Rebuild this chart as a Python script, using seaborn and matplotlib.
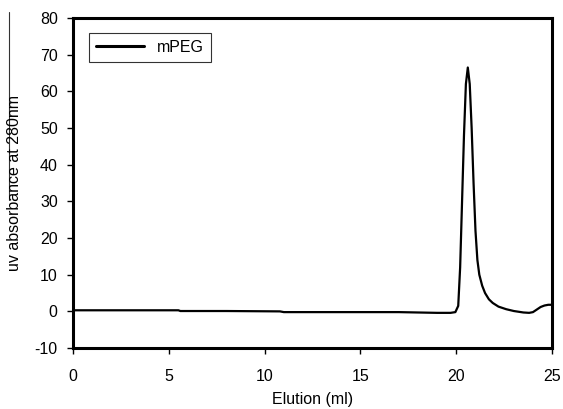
import numpy as np
import pandas as pd
import matplotlib
matplotlib.use("Agg")
import matplotlib.pyplot as plt
from matplotlib.lines import Line2D
import seaborn as sns

# 용출 부피 (ml) / UV 흡광도 값 - 그림에서 읽어낸 값
elution = [0.0, 2.0, 4.0, 5.5, 5.6, 8.0, 10.8, 11.0, 13.0, 15.0, 17.0, 19.0, 19.7,
           19.95, 20.1, 20.2, 20.3, 20.4, 20.5, 20.6, 20.7, 20.8, 20.9, 21.0,
           21.1, 21.2, 21.35, 21.5, 21.7, 21.9, 22.2, 22.6, 23.0, 23.5, 23.8,
           24.0, 24.2, 24.4, 24.6, 24.8, 25.0]
absorb = [0.3, 0.3, 0.3, 0.3, 0.1, 0.1, 0.0, -0.2, -0.2, -0.2, -0.2, -0.4, -0.4,
          -0.2, 1.5, 12.0, 30.0, 48.0, 62.0, 66.5, 62.0, 50.0, 35.0, 22.0,
          14.0, 10.0, 7.0, 5.0, 3.3, 2.3, 1.3, 0.6, 0.1, -0.3, -0.4,
          -0.2, 0.5, 1.2, 1.6, 1.8, 1.8]

df = pd.DataFrame({'Elution (ml)': elution, 'uv': absorb, 'sample': 'mPEG'})

sns.set_style('white')
plt.rcParams['font.family'] = ['Liberation Sans', 'DejaVu Sans']
plt.rcParams['axes.unicode_minus'] = False
plt.rcParams['text.color'] = 'black'
plt.rcParams['axes.labelcolor'] = 'black'
plt.rcParams['xtick.color'] = 'black'
plt.rcParams['ytick.color'] = 'black'

fig = plt.figure(figsize=(5.63, 4.09), dpi=100)
ax = fig.add_axes([0.1297, 0.149, 0.851, 0.807])

sns.lineplot(data=df, x='Elution (ml)', y='uv', hue='sample', palette=['black'],
             linewidth=1.6, ax=ax, sort=False)

ax.set_xlim(0, 25)
ax.set_ylim(-10, 80)
ax.set_xticks(range(0, 26, 5))
ax.set_yticks(range(-10, 81, 10))
ax.tick_params(axis='both', direction='out', length=4, width=1, labelsize=11.5,
               left=True, bottom=True)
ax.tick_params(axis='x', pad=11)
ax.tick_params(axis='y', pad=7)
for s in ax.spines.values():
    s.set_linewidth(2.2)
    s.set_color('black')

ax.set_xlabel('Elution (ml)', fontsize=11.5, labelpad=6)
ax.set_ylabel('')
fig.text(15 / 563, 1 - 183 / 409, 'uv absorbance at 280nm', rotation=90,
         ha='center', va='center', fontsize=11.5)

leg = ax.legend(loc='upper left', bbox_to_anchor=(0.033, 0.955), fontsize=11.5,
                frameon=True, fancybox=False, edgecolor='black',
                handlelength=3.0, borderpad=0.45, borderaxespad=0)
leg.get_frame().set_linewidth(0.8)
leg.legend_handles[0].set_linewidth(2.2)

# 왼쪽 가장자리의 세로선
fig.add_artist(Line2D([9 / 563, 9 / 563], [1 - 12 / 409, 1 - 200 / 409],
                      color='#333333', linewidth=0.8))

fig.savefig('out.png', dpi=100)
